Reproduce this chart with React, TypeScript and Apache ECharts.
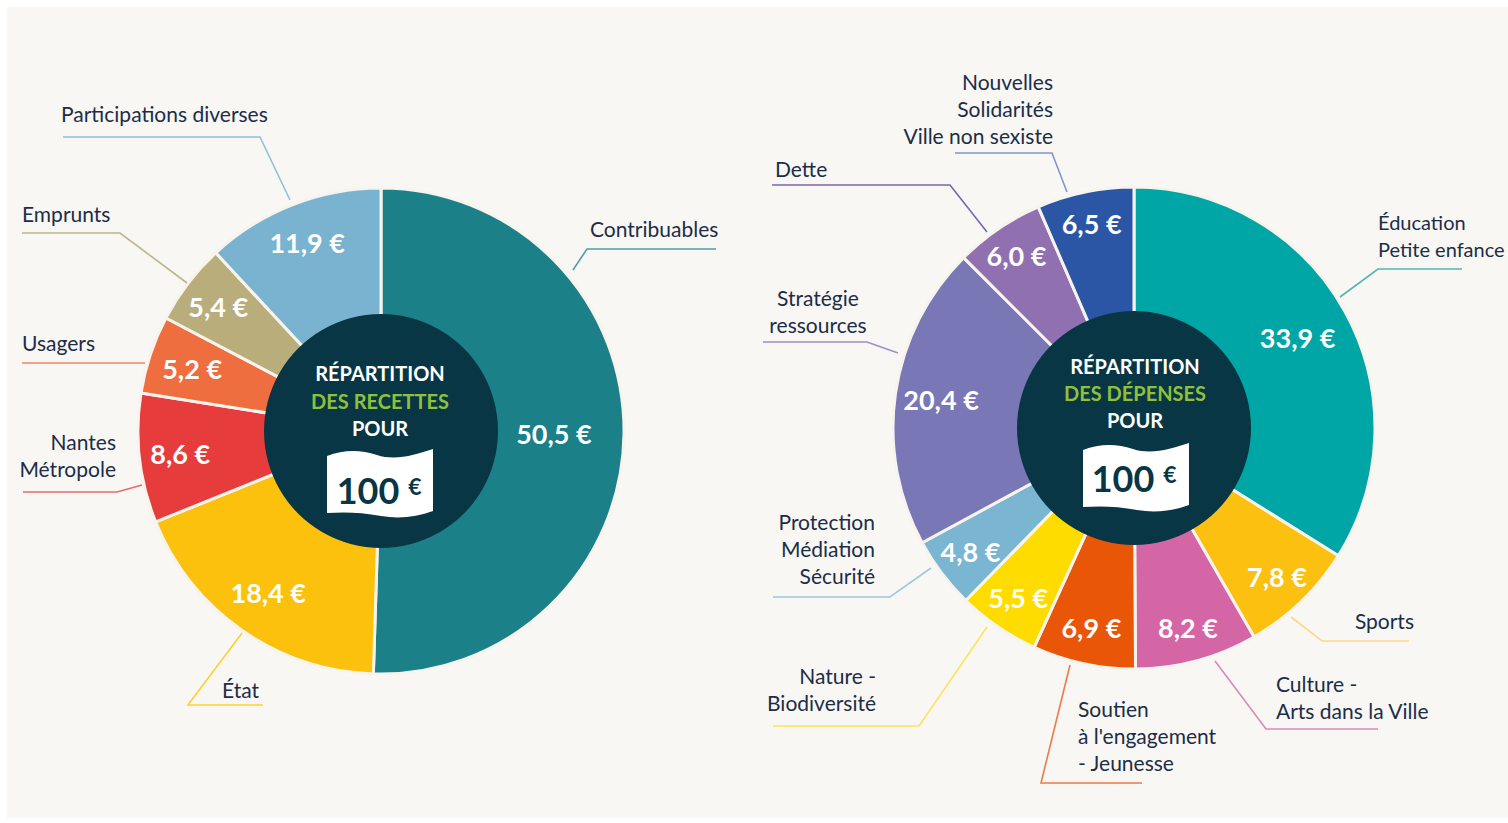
import React, { useEffect, useRef } from 'react';
import * as echarts from 'echarts';

// ---------- DATA ----------
const recettesCategories = ['Contribuables', 'État', 'Nantes\nMétropole', 'Usagers', 'Emprunts', 'Participations diverses'];
const recettesValues = [50.5, 18.4, 8.6, 5.2, 5.4, 11.9];

const depensesCategories = [
  'Éducation\nPetite enfance',
  'Sports',
  'Culture -\nArts dans la Ville',
  "Soutien\nà l'engagement\n- Jeunesse",
  'Nature -\nBiodiversité',
  'Protection\nMédiation\nSécurité',
  'Stratégie\nressources',
  'Dette',
  'Nouvelles\nSolidarités\nVille non sexiste',
];
const depensesValues = [33.9, 7.8, 8.2, 6.9, 5.5, 4.8, 20.4, 6.0, 6.5];

const recettesTitle = ['RÉPARTITION', 'DES RECETTES', 'POUR'];
const depensesTitle = ['RÉPARTITION', 'DES DÉPENSES', 'POUR'];
const badgeAmount = '100';
const badgeCurrency = '€';

// ---------- STYLES ----------
const recettesColors = ['#1b8087', '#fcc10d', '#e63c3c', '#ee6e40', '#b9ae7b', '#7ab3d0'];
const recettesLineColors = ['#4e9fa5', '#fcd230', '#e86a6e', '#f08660', '#bdb58a', '#8fc1d8'];
const depensesColors = ['#00a5a5', '#fcc010', '#d466a6', '#e95608', '#ffdc00', '#7ab5d1', '#7a77b6', '#9170b2', '#2b56a6'];
const depensesLineColors = ['#4fb7b5', '#fcd88a', '#d88ab9', '#ec7b4a', '#ffe45a', '#9dc9de', '#9d8fc8', '#7567b0', '#8097c8'];

const TEXT_COLOR = '#1c2d48';
const DARK = '#083644';
const GREEN = '#8fc03c';
const BG = '#f8f7f3';
const NARROW = 'Lato, "Noto Sans", sans-serif';
const ROUND = 'Lato, "Noto Sans", sans-serif';
const NAME_SIZE = 21;

// ---------- LAYOUT ----------
const W = 1508;
const H = 823;
const LEFT_C = [381, 431];
const RIGHT_C = [1134, 428];
const LEFT_R = 243;
const RIGHT_R = 241;
const HOLE_R = 117;

type Lay = { x: number; y: number; align: 'left' | 'right' | 'center'; line: number[][]; size?: number };

const recettesLayout: Lay[] = [
  { x: 590, y: 228, align: 'left', line: [[573, 270], [587, 249], [716, 249]] },
  { x: 222, y: 689, align: 'left', line: [[242, 633], [188, 705], [263, 705]] },
  { x: 116, y: 455, align: 'right', line: [[142, 485], [117, 492], [23, 492]] },
  { x: 22, y: 342, align: 'left', line: [[145, 363], [100, 363], [22, 363]] },
  { x: 22, y: 213, align: 'left', line: [[187, 283], [120, 233], [22, 233]] },
  { x: 61, y: 113, align: 'left', line: [[290, 200], [260, 137], [63, 137]] },
];
const recettesValueR = [173, 197, 202, 199, 205, 202];

const depensesLayout: Lay[] = [
  { x: 1378, y: 235, align: 'left', line: [[1340, 297], [1378, 269], [1462, 269]], size: 20 },
  { x: 1414, y: 620, align: 'right', line: [[1291, 617], [1322, 641], [1409, 641]] },
  { x: 1276, y: 697, align: 'left', line: [[1215, 661], [1266, 729], [1378, 729]] },
  { x: 1078, y: 735, align: 'left', line: [[1070, 665], [1041, 783], [1142, 783]] },
  { x: 876, y: 689, align: 'right', line: [[987, 627], [919, 726], [773, 726]] },
  { x: 875, y: 548, align: 'right', line: [[931, 568], [890, 597], [773, 597]] },
  { x: 818, y: 311, align: 'center', line: [[898, 353], [867, 342], [763, 342]] },
  { x: 775, y: 168, align: 'left', line: [[987, 232], [950, 185], [772, 185]] },
  { x: 1053, y: 108, align: 'right', line: [[1067, 192], [1052, 153], [955, 153]] },
];
const depensesValueR = [187, 206, 207, 204, 205, 205, 195, 209, 209];

// Wavy banner shape (local coords ~106 x 68)
const FLAG_D =
  'M0,7 C16,1 32,0 50,6 C68,12 88,6 106,0 L106,62 C90,68 72,70 54,67 C34,63 16,63 0,64 Z';
echarts.graphic.registerShape('flag', echarts.graphic.extendPath(FLAG_D, {}));

const fmt = (v: number) => v.toFixed(1).replace('.', ',') + ' €';

function buildPie(
  idPrefix: string,
  center: number[],
  radius: number,
  names: string[],
  values: number[],
  colors: string[],
  lineColors: string[],
  layout: Lay[],
  valueR: number[]
) {
  const base = {
    type: 'pie',
    center,
    startAngle: 90,
    clockwise: true,
    silent: true,
    emphasis: { disabled: true },
    avoidLabelOverlap: false,
  };
  const slices = {
    ...base,
    id: idPrefix + '-slices',
    z: 2,
    radius: [0, radius],
    label: { show: false },
    labelLine: { show: false },
    itemStyle: { borderColor: '#f7f4ee', borderWidth: 3 },
    data: names.map((n, i) => ({ name: n, value: values[i], itemStyle: { color: colors[i] } })),
  };
  const hole = {
    ...base,
    id: idPrefix + '-hole',
    z: 3,
    radius: [0, HOLE_R],
    label: { show: false },
    labelLine: { show: false },
    itemStyle: { color: DARK, borderWidth: 0 },
    data: [{ name: '', value: 1 }],
  };
  const valueLabels = {
    ...base,
    id: idPrefix + '-values',
    z: 4,
    radius: [150, radius],
    itemStyle: { color: 'rgba(0,0,0,0)', borderWidth: 0 },
    label: {
      show: true,
      position: 'inside',
      formatter: (p: any) => fmt(p.value),
      color: '#ffffff',
      fontFamily: NARROW,
      fontWeight: 'bold',
      fontSize: 27,
    },
    labelLine: { show: false },
    labelLayout: (p: any) => {
      const r = p.labelRect;
      const lx = r.x + r.width / 2 - center[0];
      const ly = r.y + r.height / 2 - center[1];
      const d = Math.sqrt(lx * lx + ly * ly) || 1;
      const R = valueR[p.dataIndex];
      return {
        x: center[0] + (lx / d) * R,
        y: center[1] + (ly / d) * R,
        align: 'center',
        verticalAlign: 'middle',
      };
    },
    data: names.map((n, i) => ({ name: n, value: values[i] })),
  };
  const nameLabels = {
    ...base,
    id: idPrefix + '-names',
    z: 4,
    radius: [0, radius],
    itemStyle: { color: 'rgba(0,0,0,0)', borderWidth: 0 },
    label: {
      show: true,
      position: 'outside',
      formatter: '{b}',
      color: TEXT_COLOR,
      fontFamily: NARROW,
      fontSize: NAME_SIZE,
      lineHeight: 27,
    },
    labelLine: { show: true, length: 20, length2: 20, lineStyle: { width: 1.6 } },
    labelLayout: (p: any) => {
      const L = layout[p.dataIndex];
      return {
        x: L.x,
        y: L.y,
        align: L.align,
        verticalAlign: 'middle',
        labelLinePoints: L.line,
      };
    },
    data: names.map((n, i) => ({
      name: n,
      value: values[i],
      label: { align: layout[i].align, fontSize: layout[i].size || NAME_SIZE },
      labelLine: { lineStyle: { color: lineColors[i], width: 1.6 } },
    })),
  };
  return [slices, hole, valueLabels, nameLabels];
}

function centerGraphics(cx: number, titleY: number[], title: string[], flagX: number, flagY: number, amountY: number) {
  const els: any[] = [];
  title.forEach((t, i) => {
    els.push({
      type: 'text',
      z: 10,
      x: cx,
      y: titleY[i],
      silent: true,
      style: {
        text: t,
        fill: i === 1 ? GREEN : '#ffffff',
        fontFamily: NARROW,
        fontWeight: 'bold',
        fontSize: 20,
        textAlign: 'center',
        textVerticalAlign: 'middle',
        align: 'center',
        verticalAlign: 'middle',
      },
    });
  });
  els.push({
    type: 'flag',
    z: 10,
    x: flagX,
    y: flagY,
    silent: true,
    style: { fill: '#ffffff' },
  });
  els.push({
    type: 'text',
    z: 11,
    x: cx - 12,
    y: amountY,
    silent: true,
    style: {
      text: badgeAmount,
      fill: DARK,
      fontFamily: ROUND,
      fontWeight: 'bold',
      fontSize: 36,
      textAlign: 'center',
      textVerticalAlign: 'middle',
      align: 'center',
      verticalAlign: 'middle',
    },
  });
  els.push({
    type: 'text',
    z: 11,
    x: cx + 35,
    y: amountY - 4,
    silent: true,
    style: {
      text: badgeCurrency,
      fill: DARK,
      fontFamily: ROUND,
      fontWeight: 'bold',
      fontSize: 23,
      textAlign: 'center',
      textVerticalAlign: 'middle',
      align: 'center',
      verticalAlign: 'middle',
    },
  });
  return els;
}

export default function App() {
  const ref = useRef<HTMLDivElement>(null);
  useEffect(() => {
    if (!ref.current) return;
    const chart = echarts.init(ref.current, undefined, { renderer: 'svg', width: W, height: H });
    const option: any = {
      animation: false,
      backgroundColor: '#ffffff',
      graphic: [
        { type: 'rect', z: -10, silent: true, shape: { x: 7, y: 7, width: W - 7, height: H - 12 }, style: { fill: BG } },
        ...centerGraphics(LEFT_C[0] - 1, [373, 401, 428], recettesTitle, 327, 449, 490),
        ...centerGraphics(RIGHT_C[0] + 1, [366, 393, 420], depensesTitle, 1083, 443, 478),
      ],
      series: [
        ...buildPie('rec', LEFT_C, LEFT_R, recettesCategories, recettesValues, recettesColors, recettesLineColors, recettesLayout, recettesValueR),
        ...buildPie('dep', RIGHT_C, RIGHT_R, depensesCategories, depensesValues, depensesColors, depensesLineColors, depensesLayout, depensesValueR),
      ],
    };
    chart.setOption(option);
    return () => chart.dispose();
  }, []);
  return <div ref={ref} style={{ position: 'fixed', left: 0, top: 0, width: W, height: H }} />;
}
